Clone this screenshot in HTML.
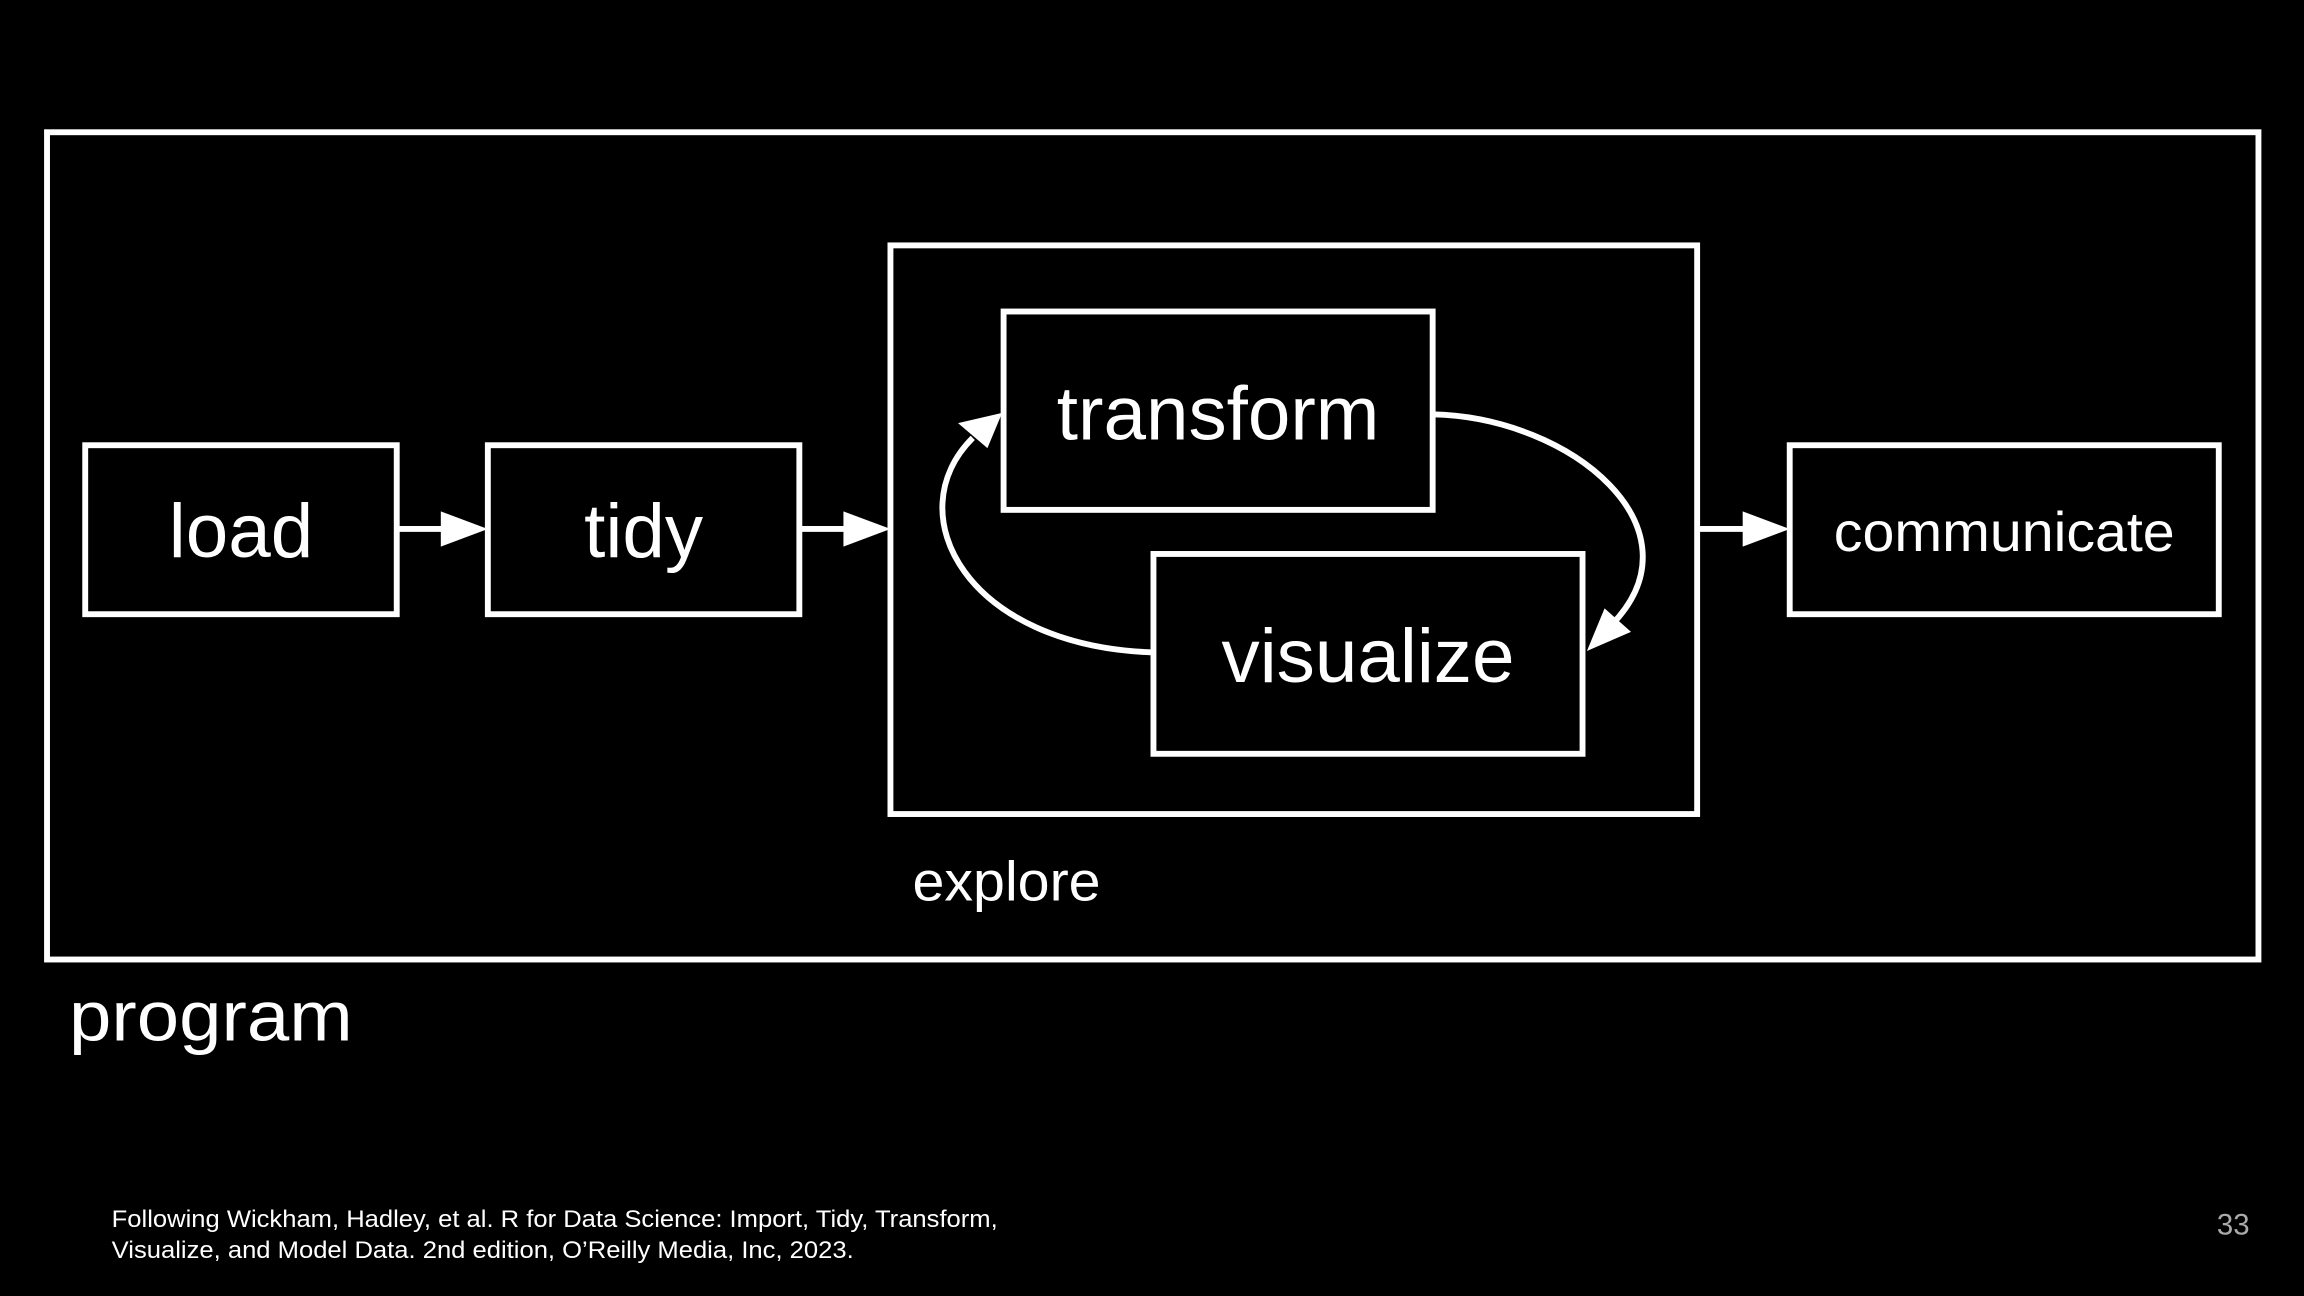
<!DOCTYPE html>
<html><head><meta charset="utf-8"><style>
html,body{margin:0;padding:0;background:#000;width:2304px;height:1296px;overflow:hidden}
svg{display:block}
text{font-family:"Liberation Sans",Arial,sans-serif;fill:#fff}
</style></head><body>
<svg width="2304" height="1296" viewBox="0 0 1568 882" preserveAspectRatio="none">
<rect width="1568" height="882" fill="#000"/>
<g fill="none" stroke="#fff" stroke-width="4">
<rect x="32" y="90" width="1505" height="563"/>
<rect x="58" y="303" width="212" height="115"/>
<rect x="332" y="303" width="212" height="115"/>
<rect x="606" y="167" width="549" height="387"/>
<rect x="683" y="212" width="292" height="135"/>
<rect x="785" y="377" width="292" height="136"/>
<rect x="1218" y="303" width="292" height="115"/>
<line x1="270" y1="360" x2="305" y2="360"/>
<line x1="544" y1="360" x2="579" y2="360"/>
<line x1="1155" y1="360" x2="1190" y2="360"/>
<path d="M975,282 C1070,284 1160,360 1097,425"/>
<path d="M785,444 C658,440 610,350 662,298"/>
</g>
<g fill="#fff">
<polygon points="332,360 300,348 300,372"/>
<polygon points="606,360 574,348 574,372"/>
<polygon points="1218,360 1186,348 1186,372"/>
<polygon points="1080,443 1092,414 1110,430"/>
<polygon points="682,281 652,288 672,305"/>
</g>
<text x="164" y="379" font-size="52" text-anchor="middle">load</text>
<text x="438" y="379" font-size="52" text-anchor="middle">tidy</text>
<text x="829" y="299" font-size="52" text-anchor="middle">transform</text>
<text x="931" y="464" font-size="52" text-anchor="middle">visualize</text>
<text x="1248" y="375" font-size="38" textLength="232" lengthAdjust="spacingAndGlyphs">communicate</text>
<text x="621" y="613" font-size="38" textLength="128" lengthAdjust="spacingAndGlyphs">explore</text>
<text x="47" y="708" font-size="48" textLength="193" lengthAdjust="spacingAndGlyphs">program</text>
<text x="76" y="835" font-size="16.5" textLength="603" lengthAdjust="spacingAndGlyphs">Following Wickham, Hadley, et al. R for Data Science: Import, Tidy, Transform,</text>
<text x="76" y="856" font-size="16.5" textLength="505" lengthAdjust="spacingAndGlyphs">Visualize, and Model Data. 2nd edition, O’Reilly Media, Inc, 2023.</text>
<text x="1531" y="840" font-size="20" text-anchor="end" style="fill:#aaa">33</text>
</svg>
</body></html>
